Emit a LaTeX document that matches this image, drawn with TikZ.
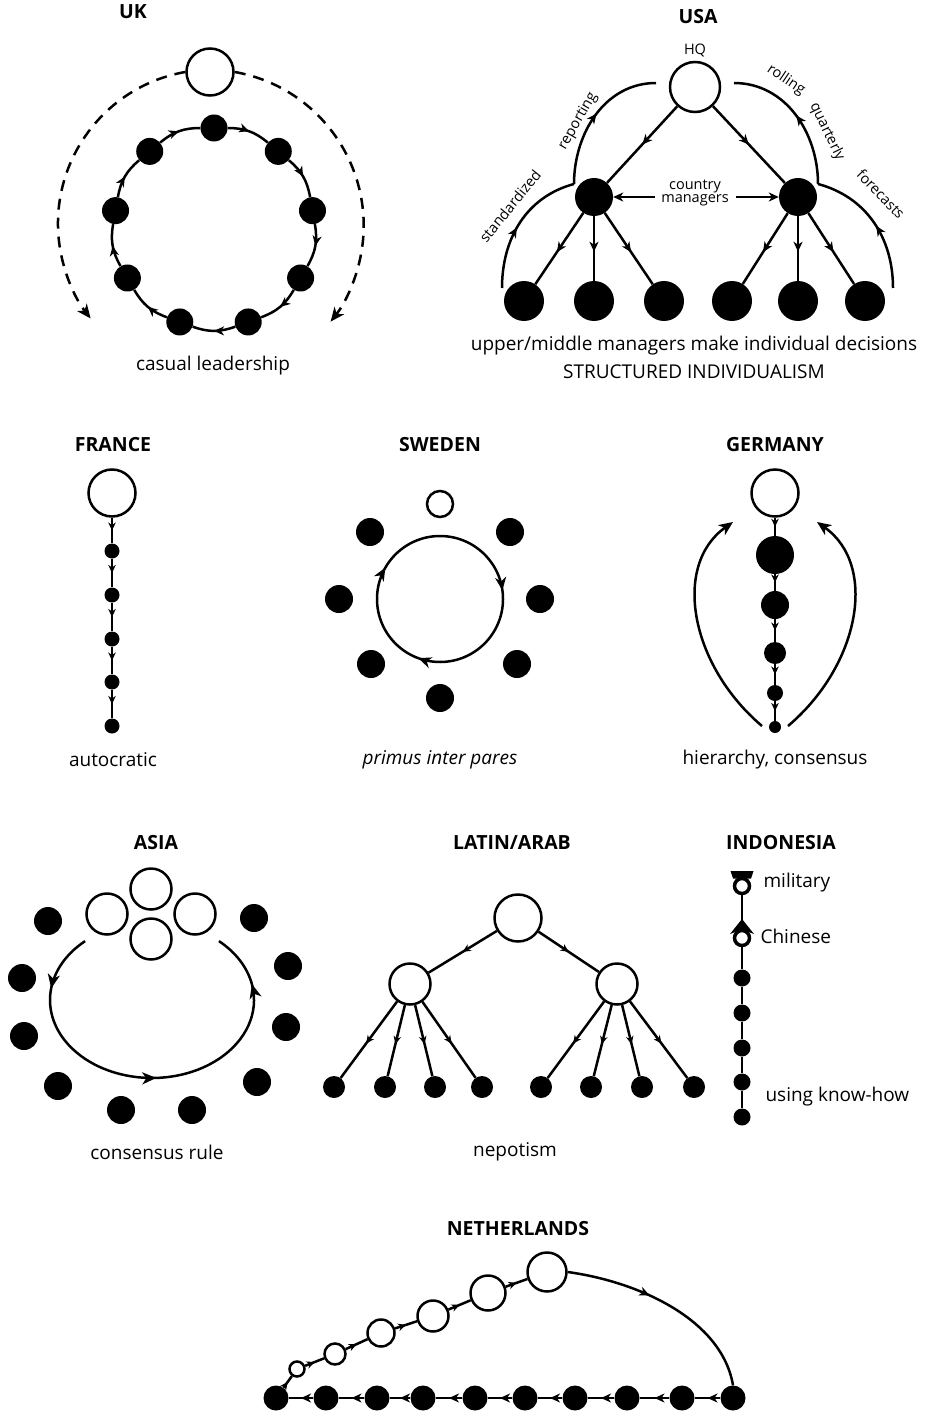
\documentclass[tikz,border=0pt]{standalone}
\usepackage{fontspec}
\setmainfont{Open Sans}
\usetikzlibrary{arrows.meta,decorations.markings,calc}
\tikzset{
  lbl/.style={font=\fontsize{19}{22}\selectfont},
  small/.style={font=\fontsize{14.5}{13}\selectfont},
  ttl/.style={font=\bfseries\fontsize{19.5}{22}\selectfont},
  bdot/.style={circle, fill=black, inner sep=0pt, minimum size=#1},
  wdot/.style={circle, draw=black, fill=white, line width=2.5pt, inner sep=0pt, minimum size=#1},
  ln/.style={line width=2.5pt},
  midarr/.style={postaction={decorate}, decoration={markings, mark=at position #1 with {\arrow{Stealth[length=10pt,width=9pt,inset=3pt]}}}},
  midarr/.default=0.5,
  smarr/.style={postaction={decorate}, decoration={markings, mark=at position #1 with {\arrow{Stealth[length=8pt,width=7.5pt,inset=2.5pt]}}}},
  smarr/.default=0.5,
  bigtip/.style={-{Stealth[length=14pt,width=12pt,inset=4pt]}},
}
\begin{document}
\begin{tikzpicture}[x=1pt,y=1pt]
\useasboundingbox (0,0) rectangle (927,-1412);
\fill[white] (0,0) rectangle (927,-1412);

% ---------------- UK ----------------
\node[ttl] (tuk) at (133,-12) {UK};
\node[wdot=47] (ukhq) at (210,-72) {};
\foreach \i/\a in {1/90,2/50,3/10,4/-30,5/-70,6/-110,7/-150,8/170,9/130}
  \node[bdot=27] (uk\i) at ($(214,-228)+(\a:100)$) {};
\foreach \i/\j in {1/2,2/3,3/4,4/5,5/6,6/7,7/8,8/9,9/1}
  \draw[ln,midarr] (uk\i) to[bend left=20] (uk\j);
\draw[ln, dash pattern=on 11pt off 8pt, bigtip] (ukhq.west) arc[start angle=100, end angle=218, radius=154];
\draw[ln, dash pattern=on 11pt off 8pt, bigtip] (ukhq.east) arc[start angle=80, end angle=-38, radius=156];
\node[lbl] (ukl) at (213,-366) {casual leadership};

% ---------------- USA ----------------
\node[ttl] (tusa) at (698,-17) {USA};
\node[small] (hql) at (695,-50) {HQ};
\node[wdot=50] (hq) at (695,-87) {};
\node[bdot=38] (mL) at (594,-197) {};
\node[bdot=38] (mR) at (798,-197) {};
\foreach \i/\x in {1/524,2/594,3/664,4/732,5/798,6/865}
  \node[bdot=40] (us\i) at (\x,-301) {};
\draw[ln,midarr] (hq) -- (mL);
\draw[ln,midarr] (hq) -- (mR);
\foreach \i in {1,2,3} \draw[ln,midarr=0.55] (mL) -- (us\i);
\foreach \i in {4,5,6} \draw[ln,midarr=0.55] (mR) -- (us\i);
\node[small, align=center] (cm) at (695,-193) {country\\managers};
\coordinate (cmL) at (655,-197);
\coordinate (cmR) at (736,-197);
\draw[ln,-{Stealth[length=10pt,width=9pt,inset=3pt]}] (cmL) -- (mL);
\draw[ln,-{Stealth[length=10pt,width=9pt,inset=3pt]}] (cmR) -- (mR);
\coordinate (sA) at (502,-288);
\coordinate (sB) at (574,-184);
\coordinate (sC) at (656,-83);
\coordinate (rA) at (893,-288);
\coordinate (rB) at (818,-184);
\coordinate (rC) at (734,-83);
\draw[ln,midarr=0.46] (sA) to[out=90,in=195] (sB);
\draw[ln,midarr=0.52] (sB) to[out=90,in=180] (sC);
\draw[ln,midarr=0.47] (rA) to[out=90,in=-15] (rB);
\draw[ln,midarr=0.5] (rB) to[out=90,in=0] (rC);
\node[small, rotate=51] (l1) at (510,-206) {standardized};
\node[small, rotate=60] (l2) at (578,-121) {reporting};
\node[small, rotate=-34] (l3) at (786,-80) {rolling};
\node[small, rotate=-64] (l4) at (827,-132) {quarterly};
\node[small, rotate=-46] (l5) at (881,-194) {forecasts};
\node[lbl] (usl1) at (694,-346) {upper/middle managers make individual decisions};
\node[lbl] (usl2) at (694,-372) {STRUCTURED INDIVIDUALISM};

% ---------------- FRANCE ----------------
\node[ttl] (tfr) at (113,-445) {FRANCE};
\node[wdot=47] (fr0) at (112,-493) {};
\foreach \i/\y in {1/551,2/595,3/639,4/682,5/726}
  \node[bdot=15] (fr\i) at (112,-\y) {};
\foreach \i/\j in {0/1,1/2,2/3,3/4,4/5}
  \draw[ln,smarr] (fr\i) -- (fr\j);
\node[lbl] (frl) at (113,-760) {autocratic};

% ---------------- SWEDEN ----------------
\node[ttl] (tsw) at (440,-445) {SWEDEN};
\node[wdot=26] (sw0) at (440,-504) {};
\foreach \i/\x/\y in {1/370/532,2/510/532,3/339/599,4/540/599,5/371/664,6/517/664,7/440/698}
  \node[bdot=28] (sw\i) at (\x,-\y) {};
\coordinate (swc) at (440,-599);
\draw[ln, postaction={decorate}, decoration={markings,
   mark=at position 0.228 with {\arrow{Stealth[length=13pt,width=11pt,inset=4pt]}},
   mark=at position 0.556 with {\arrow{Stealth[length=13pt,width=11pt,inset=4pt]}},
   mark=at position 0.833 with {\arrow{Stealth[length=13pt,width=11pt,inset=4pt]}}}]
   ([yshift=63pt]swc) arc[start angle=90, end angle=-270, radius=63];
\node[lbl, font=\itshape\fontsize{19}{22}\selectfont] (swl) at (440,-760) {primus inter pares};

% ---------------- GERMANY ----------------
\node[ttl] (tde) at (775,-445) {GERMANY};
\node[wdot=47] (de0) at (775,-493) {};
\node[bdot=38] (de1) at (775,-555) {};
\node[bdot=28] (de2) at (775,-605) {};
\node[bdot=22] (de3) at (775,-653) {};
\node[bdot=16] (de4) at (775,-693) {};
\node[bdot=12] (de5) at (775,-727) {};
\foreach \i/\j in {0/1,1/2,2/3,3/4,4/5}
  \draw[ln,smarr] (de\i) -- (de\j);
\coordinate (gL1) at (762,-726);
\coordinate (gL2) at (733,-522);
\coordinate (gR1) at (788,-726);
\coordinate (gR2) at (817,-522);
\draw[ln,bigtip] (gL1) .. controls (690,-665) and (672,-565) .. (gL2);
\draw[ln,bigtip] (gR1) .. controls (860,-665) and (878,-565) .. (gR2);
\node[lbl] (del) at (775,-760) {hierarchy, consensus};

% ---------------- ASIA ----------------
\node[ttl] (tas) at (156,-843) {ASIA};
\foreach \i/\x/\y in {1/151/889,2/107/914,3/195/914,4/151/939}
  \node[wdot=41] (aw\i) at (\x,-\y) {};
\foreach \i/\x/\y in {1/48/921,2/22/978,3/24/1036,4/58/1086,5/121/1110,6/192/1110,7/257/1082,8/286/1027,9/288/966,10/254/918}
  \node[bdot=28] (ab\i) at (\x,-\y) {};
\coordinate (asc) at (152,-1000);
\draw[ln, postaction={decorate}, decoration={markings,
   mark=at position 0.14 with {\arrow{Stealth[length=14pt,width=12pt,inset=4pt]}},
   mark=at position 0.51 with {\arrow{Stealth[length=14pt,width=12pt,inset=4pt]}},
   mark=at position 0.87 with {\arrow{Stealth[length=14pt,width=12pt,inset=4pt]}}}]
   ($(asc)+(-66.9,58.9)$) arc[start angle=131, end angle=409, x radius=102, y radius=78];
\node[lbl] (asl) at (157,-1152) {consensus rule};

% ---------------- LATIN/ARAB ----------------
\node[ttl] (tla) at (512,-843) {LATIN/ARAB};
\node[wdot=47] (la0) at (518,-918) {};
\node[wdot=41] (laL) at (410,-984) {};
\node[wdot=41] (laR) at (617,-984) {};
\foreach \i/\x in {1/334,2/385,3/435,4/482,5/541,6/591,7/642,8/694}
  \node[bdot=22] (lb\i) at (\x,-1087) {};
\draw[ln,smarr] (la0) -- (laL);
\draw[ln,smarr] (la0) -- (laR);
\foreach \i in {1,2,3,4} \draw[ln,smarr=0.55] (laL) -- (lb\i);
\foreach \i in {5,6,7,8} \draw[ln,smarr=0.55] (laR) -- (lb\i);
\node[lbl] (lal) at (515,-1152) {nepotism};

% ---------------- INDONESIA ----------------
\node[ttl] (tin) at (781,-843) {INDONESIA};
\node[wdot=15, line width=3.5pt] (imil) at (742,-886) {};
\node[wdot=15, line width=3.5pt] (ichi) at (742,-938) {};
\foreach \i/\y in {1/978,2/1013,3/1048,4/1082,5/1117}
  \node[bdot=17] (id\i) at (742,-\y) {};
\draw[ln] (imil) -- (ichi);
\draw[ln] (ichi) -- (id1);
\foreach \i/\j in {1/2,2/3,3/4,4/5} \draw[ln] (id\i) -- (id\j);
\fill (730.5,-871) -- (753.5,-871) -- (751,-878.5) -- (733,-878.5) -- cycle;
\fill (742,-919) -- (754,-934) -- (742,-929.5) -- (730,-934) -- cycle;
\node[lbl, anchor=west] (iml) at (760,-883) {military};
\node[lbl, anchor=west] (icl) at (757,-936) {Chinese};
\node[lbl, anchor=west] (ikl) at (762,-1097) {using know-how};

% ---------------- NETHERLANDS ----------------
\node[ttl] (tnl) at (518,-1229) {NETHERLANDS};
\foreach \i/\x in {1/276,2/326,3/377,4/423,5/475,6/525,7/575,8/627,9/682,10/733}
  \node[bdot=25] (nb\i) at (\x,-1398) {};
\foreach \i/\j in {2/1,3/2,4/3,5/4,6/5,7/6,8/7,9/8,10/9}
  \draw[ln,midarr] (nb\i) -- (nb\j);
\foreach \i/\x/\y/\s in {1/297/1369/15,2/335/1354/21,3/381/1333/27,4/433/1316/31,5/488/1293/35,6/547/1272/39}
  \node[wdot=\s] (nw\i) at (\x,-\y) {};
\draw[ln,smarr] (nb1) -- (nw1);
\foreach \i/\j in {1/2,2/3,3/4,4/5,5/6}
  \draw[ln,smarr] (nw\i) -- (nw\j);
\draw[ln,midarr=0.4] (nw6.east) .. controls (640,-1282) and (722,-1320) .. (nb10.north);
\end{tikzpicture}
\end{document}
